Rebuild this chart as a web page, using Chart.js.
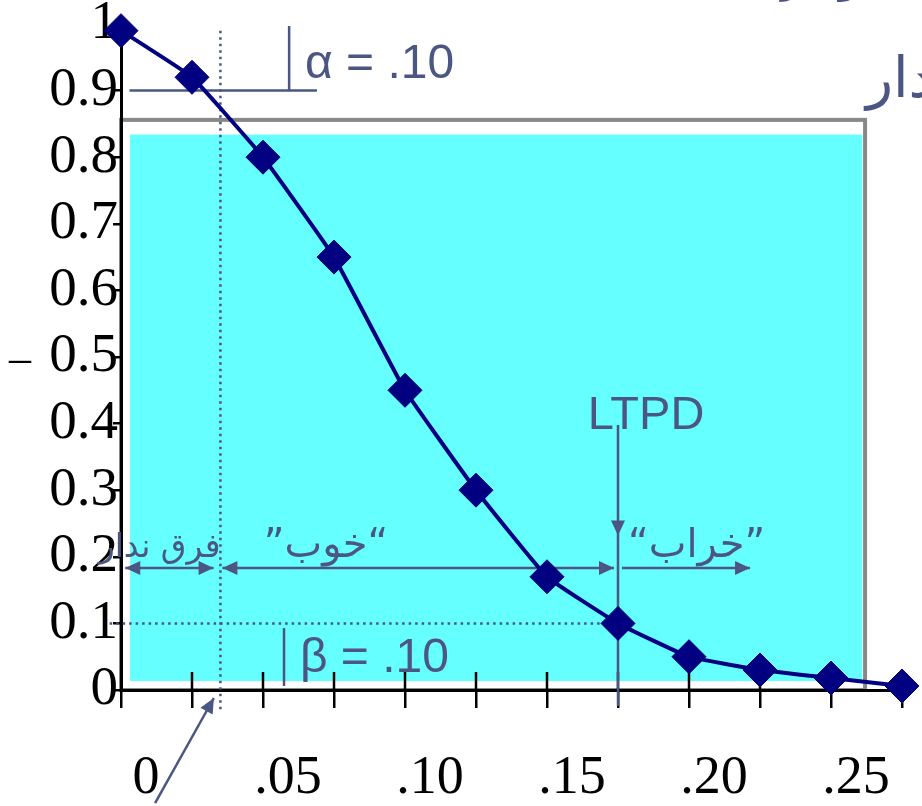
<!DOCTYPE html>
<html>
<head>
<meta charset="utf-8">
<script src="https://cdn.jsdelivr.net/npm/chart.js@4.4.1/dist/chart.umd.min.js"></script>
<style>
  html, body { margin: 0; padding: 0; background: #fff; }
  canvas { display: block; }
</style>
</head>
<body>
<canvas id="chart" width="922" height="806"></canvas>
<script>
// OC curve: fraction defective vs probability of acceptance
const fractionDefective = [0, 0.025, 0.05, 0.075, 0.1, 0.125, 0.15, 0.175, 0.2, 0.225, 0.25, 0.275];
const probAccept = [0.99, 0.92, 0.8, 0.65, 0.45, 0.3, 0.17, 0.1, 0.05, 0.03, 0.018, 0.006];
const xTickLabels = ["0", ".05", ".10", ".15", ".20", ".25"];
const yTickLabels = ["0", "0.1", "0.2", "0.3", "0.4", "0.5", "0.6", "0.7", "0.8", "0.9", "1"];
const aql = 0.035;
const ltpd = 0.175;
const alpha = 0.1;
const beta = 0.1;

const ink = "#4b5682";
const serif = "'Liberation Serif', 'Times New Roman', serif";
const sans = "'Liberation Sans', Arial, sans-serif";
const arabic = "'DejaVu Sans', sans-serif";

function arrowHead(ctx, x0, y0, x1, y1) {
  const a = Math.atan2(y1 - y0, x1 - x0);
  const len = 15, half = 7;
  ctx.beginPath();
  ctx.moveTo(x1, y1);
  ctx.lineTo(x1 - len * Math.cos(a) + half * Math.sin(a), y1 - len * Math.sin(a) - half * Math.cos(a));
  ctx.lineTo(x1 - len * Math.cos(a) - half * Math.sin(a), y1 - len * Math.sin(a) + half * Math.cos(a));
  ctx.closePath();
  ctx.fill();
}

function line(ctx, x0, y0, x1, y1) {
  ctx.beginPath();
  ctx.moveTo(x0, y0);
  ctx.lineTo(x1, y1);
  ctx.stroke();
}

const annotations = {
  id: "annotations",
  beforeDraw(chart) {
    const { ctx, scales: { x, y } } = chart;
    ctx.save();
    // cyan panel inside a grey frame
    ctx.fillStyle = "#66ffff";
    const l = x.getPixelForValue(0.0032), r = x.getPixelForValue(0.261);
    const t = y.getPixelForValue(0.834), b = y.getPixelForValue(0.0135);
    ctx.fillRect(l, t, r - l, b - t);
    ctx.strokeStyle = "#888888";
    ctx.lineWidth = 4;
    const fl = x.getPixelForValue(0), fr = x.getPixelForValue(0.262);
    const ft = y.getPixelForValue(0.856), fb = y.getPixelForValue(0);
    ctx.strokeRect(fl, ft, fr - fl, fb - ft);
    ctx.restore();
  },
  beforeDatasetsDraw(chart) {
    const { ctx, scales: { x, y } } = chart;
    const px = v => x.getPixelForValue(v);
    const py = v => y.getPixelForValue(v);
    ctx.save();

    // x tick marks crossing the axis (upper half)
    ctx.strokeStyle = "#000";
    ctx.lineWidth = 2.5;
    fractionDefective.slice(1).forEach(v => line(ctx, px(v), py(0) - 18, px(v), py(0)));

    ctx.strokeStyle = ink;
    ctx.fillStyle = ink;
    ctx.lineWidth = 2.5;

    // AQL dotted vertical + pointer arrow
    ctx.setLineDash([2.5, 4]);
    line(ctx, px(aql), py(0.99), px(aql), py(-0.03));
    // beta dotted horizontal
    line(ctx, px(-0.004), py(beta), px(ltpd), py(beta));
    ctx.setLineDash([]);
    line(ctx, px(0.012), py(-0.17), px(0.0327), py(-0.012));
    arrowHead(ctx, px(0.012), py(-0.17), px(0.0327), py(-0.012));

    // alpha marker
    line(ctx, px(0.003), py(1 - alpha), px(0.069), py(1 - alpha));
    line(ctx, px(0.0592), py(1 - alpha), px(0.0592), py(0.997));
    // beta marker
    line(ctx, px(0.0574), py(0.093), px(0.0574), py(0.006));

    // LTPD vertical with down arrow
    line(ctx, px(ltpd), py(0.398), px(ltpd), py(-0.024));
    arrowHead(ctx, px(ltpd), py(0.3), px(ltpd), py(0.232));

    // zone arrows
    const ay = py(0.183);
    line(ctx, px(0.0015), ay, px(aql - 0.0024), ay);
    arrowHead(ctx, px(0.02), ay, px(0.0015), ay);
    arrowHead(ctx, px(0.02), ay, px(aql - 0.0024), ay);
    line(ctx, px(aql + 0.0007), ay, px(ltpd - 0.0014), ay);
    arrowHead(ctx, px(0.1), ay, px(aql + 0.0007), ay);
    arrowHead(ctx, px(0.1), ay, px(ltpd - 0.0014), ay);
    line(ctx, px(ltpd + 0.0014), ay, px(0.2215), ay);
    arrowHead(ctx, px(ltpd + 0.0014), ay, px(0.2215), ay);

    // texts
    ctx.textBaseline = "alphabetic";
    ctx.font = "48px " + sans;
    ctx.textAlign = "left";
    ctx.fillText("α = .10", px(0.0648), py(0.919));
    ctx.fillText("β = .10", px(0.063), py(0.027));
    ctx.font = "47px " + sans;
    ctx.textAlign = "center";
    ctx.fillText("LTPD", px(ltpd) + 28, py(0.392));

    ctx.direction = "rtl";
    ctx.font = "40px " + arabic;
    ctx.textAlign = "right";
    ctx.fillText("“خوب”", px(0.0941), py(0.2));
    ctx.fillText("”خراب“", px(0.2268), py(0.2));
    ctx.font = "33px " + arabic;
    ctx.fillText("فرق ندار", px(aql), py(0.2));
    ctx.font = "56px " + arabic;
    ctx.textAlign = "left";
    ctx.fillText("مقدار", 866, 97);
    ctx.font = "48px " + arabic;
    ctx.textAlign = "right";
    ctx.fillText("نمودار", 905, -10);

    ctx.direction = "ltr";
    ctx.fillStyle = "#000";
    ctx.font = "44px " + serif;
    ctx.textAlign = "center";
    ctx.fillText("–", 20, 372);
    ctx.restore();
  }
};

const ctx = document.querySelector("#chart").getContext("2d");

const data = {
  labels: fractionDefective,
  datasets: [
    {
      data: fractionDefective.map((p, i) => ({ x: p, y: probAccept[i] })),
      borderColor: "#000080",
      borderWidth: 4,
      tension: 0.1,
      pointStyle: "rectRot",
      pointRadius: 17,
      pointBorderWidth: 1,
      pointBackgroundColor: "#000080",
      pointBorderColor: "#000080",
      clip: false,
    },
  ],
};

const config = {
  type: "line",
  data: data,
  options: {
    responsive: false,
    animation: false,
    layout: { padding: { top: 24, right: 20, left: 0, bottom: 0 } },
    plugins: {
      legend: { display: false },
      tooltip: { enabled: false },
    },
    scales: {
      x: {
        type: "linear",
        min: 0,
        max: 0.275,
        afterBuildTicks: (scale) => {
          scale.ticks = fractionDefective.map((v) => ({ value: v }));
        },
        afterFit: (scale) => {
          scale.height = 116;
          scale.paddingLeft = 0;
          scale.paddingRight = 0;
        },
        ticks: {
          autoSkip: false,
          maxRotation: 0,
          labelOffset: 25,
          padding: 38,
          color: "#000",
          font: { family: serif, size: 54 },
          callback: (value, index) => (index % 2 === 0 ? xTickLabels[index / 2] : ""),
        },
        grid: {
          display: true,
          drawOnChartArea: false,
          drawTicks: true,
          tickLength: 18,
          color: "#000",
          lineWidth: 2.5,
        },
        border: { display: true, color: "#000", width: 3 },
      },
      y: {
        min: 0,
        max: 1,
        afterFit: (scale) => {
          scale.width = 121;
          scale.paddingTop = 0;
          scale.paddingBottom = 0;
        },
        ticks: {
          stepSize: 0.1,
          autoSkip: false,
          padding: -5,
          color: "#000",
          font: { family: serif, size: 55 },
          callback: (value, index) => yTickLabels[index],
        },
        grid: {
          display: true,
          drawOnChartArea: false,
          drawTicks: true,
          tickLength: 8,
          color: "#000",
          lineWidth: 2.5,
        },
        border: { display: true, color: "#000", width: 3 },
      },
    },
  },
  plugins: [annotations],
};

const chart = new Chart(ctx, config);
</script>
</body>
</html>
